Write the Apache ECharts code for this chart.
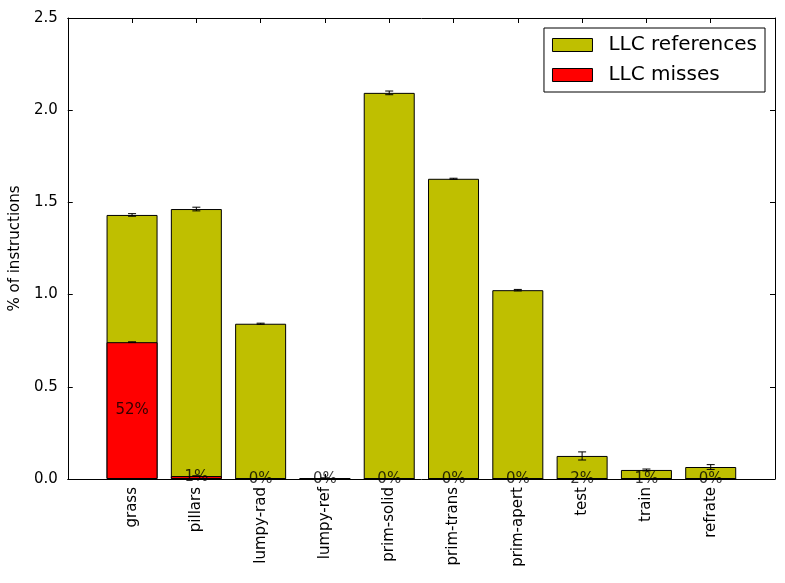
<!DOCTYPE html>
<html>
<head>
<meta charset="utf-8">
<script src="https://cdn.jsdelivr.net/npm/echarts@6/dist/echarts.min.js"></script>
<style>
html, body { margin: 0; padding: 0; background: #fff; }
#chart { width: 785px; height: 583px; }
</style>
</head>
<body>
<div id="chart"></div>
<script>
const names = ['grass', 'pillars', 'lumpy-rad', 'lumpy-ref', 'prim-solid', 'prim-trans', 'prim-apert', 'test', 'train', 'refrate']
const references = [1.432, 1.464, 0.842, 0.005, 2.094, 1.628, 1.024, 0.125, 0.049, 0.065]
const refErr = [0.007, 0.010, 0.003, 0.001, 0.010, 0.003, 0.004, 0.022, 0.005, 0.013]
const misses = [0.742, 0.016, 0.001, 0, 0.001, 0, 0, 0.0025, 0.0005, 0]
const missErr = [0.002, 0.001, 0, 0, 0, 0, 0, 0, 0, 0]
const pctLabels = ['52%', '1%', '0%', '0%', '0%', '0%', '0%', '2%', '1%', '0%']

const font = 'DejaVu Sans'
const xOf = i => i + 1

function errRender (params, api) {
    const x = api.value(0)
    const v = api.value(1)
    const e = api.value(2)
    const lo = api.coord([x, v - e])
    const hi = api.coord([x, v + e])
    const style = { stroke: '#000', lineWidth: 1 }
    return {
        type: 'group',
        children: [
            { type: 'line', shape: { x1: lo[0], y1: lo[1], x2: hi[0], y2: hi[1] }, style: style },
            { type: 'line', shape: { x1: lo[0] - 4, y1: lo[1], x2: lo[0] + 4, y2: lo[1] }, style: style },
            { type: 'line', shape: { x1: hi[0] - 4, y1: hi[1], x2: hi[0] + 4, y2: hi[1] }, style: style }
        ]
    }
}

const axisLine = { show: true, onZero: false, lineStyle: { color: '#000', width: 1 } }
const tickIn = { show: true, inside: true, length: 5, lineStyle: { color: '#000' } }

const option = {
    animation: false,
    backgroundColor: '#fff',
    textStyle: { fontFamily: font },
    grid: { left: 67, right: 10, top: 18, bottom: 104 },
    legend: {
        right: 20,
        top: 28,
        orient: 'vertical',
        icon: 'rect',
        itemWidth: 40,
        itemHeight: 13,
        itemGap: 10,
        padding: [7, 8, 7, 8],
        borderColor: '#000',
        borderWidth: 1,
        backgroundColor: '#fff',
        itemStyle: { borderColor: '#000', borderWidth: 1 },
        textStyle: { fontFamily: font, fontSize: 20, color: '#000', padding: [0, 0, 0, 11] },
        data: ['LLC references', 'LLC misses']
    },
    xAxis: [
        {
            type: 'value',
            min: 0,
            max: 11,
            interval: 1,
            axisLine: axisLine,
            axisTick: tickIn,
            splitLine: { show: false },
            axisLabel: {
                rotate: 90,
                margin: 8,
                fontSize: 15,
                fontFamily: font,
                color: '#000',
                formatter: v => names[v - 1] || ''
            }
        },
        {
            type: 'value',
            position: 'top',
            min: 0,
            max: 11,
            interval: 1,
            axisLine: axisLine,
            axisTick: tickIn,
            splitLine: { show: false },
            axisLabel: { show: false }
        }
    ],
    yAxis: [
        {
            type: 'value',
            min: 0,
            max: 2.5,
            interval: 0.5,
            name: '% of instructions',
            nameLocation: 'middle',
            nameGap: 43,
            nameTextStyle: { fontFamily: font, fontSize: 15, color: '#000' },
            axisLine: axisLine,
            axisTick: tickIn,
            splitLine: { show: false },
            axisLabel: {
                fontSize: 15,
                fontFamily: font,
                color: '#000',
                margin: 10,
                formatter: v => v.toFixed(1)
            }
        },
        {
            type: 'value',
            position: 'right',
            min: 0,
            max: 2.5,
            interval: 0.5,
            axisLine: axisLine,
            axisTick: tickIn,
            splitLine: { show: false },
            axisLabel: { show: false }
        }
    ],
    series: [
        {
            name: 'LLC references',
            type: 'bar',
            barWidth: 51,
            barGap: '-100%',
            itemStyle: { color: '#bfbf00', borderColor: '#000', borderWidth: 1 },
            data: references.map((v, i) => [xOf(i), v])
        },
        {
            name: 'LLC misses',
            type: 'bar',
            barWidth: 51,
            barGap: '-100%',
            itemStyle: { color: '#ff0000', borderColor: '#000', borderWidth: 1 },
            data: misses.map((v, i) => [xOf(i), v])
        },
        {
            type: 'custom',
            renderItem: errRender,
            z: 5,
            data: references.map((v, i) => [xOf(i), v, refErr[i]])
        },
        {
            type: 'custom',
            renderItem: errRender,
            z: 5,
            data: misses.map((v, i) => [xOf(i), v, missErr[i]]).filter(d => d[2] > 0)
        },
        {
            type: 'scatter',
            symbolSize: 0,
            z: 10,
            silent: true,
            label: {
                show: true,
                position: 'inside',
                fontSize: 15,
                fontFamily: font,
                color: '#000',
                formatter: p => pctLabels[p.dataIndex]
            },
            data: misses.map((v, i) => [xOf(i), v / 2])
        }
    ]
}

const myChart = echarts.init(document.getElementById('chart'))
myChart.setOption(option)
</script>
</body>
</html>
